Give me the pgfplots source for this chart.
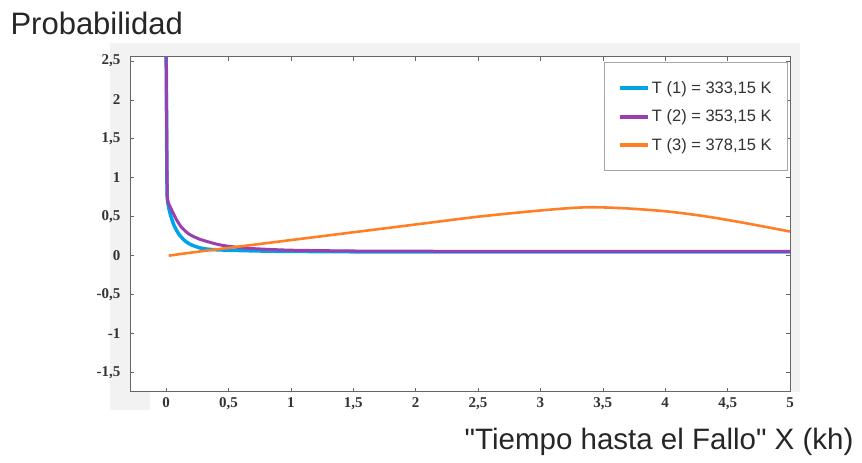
\documentclass[border=0pt]{standalone}
\usepackage{pgfplots}
\pgfplotsset{compat=1.18}
\usepackage{fontspec}
\setmainfont{Liberation Sans}
\newfontfamily\labelfont{Liberation Sans}
\newfontfamily\tickfont{Liberation Serif}
\definecolor{cblue}{HTML}{00A2E8}
\definecolor{cpurple}{HTML}{9A3FB0}
\definecolor{corange}{HTML}{FF7F27}
\begin{document}
\begin{tikzpicture}[x=1pt,y=1pt]
\path[use as bounding box] (0,0) rectangle (862,463);
\fill[gray!10] (110,71) rectangle (800,420);
\fill[gray!10] (110,53) rectangle (150,71);
\begin{axis}[
  at={(130pt,71pt)}, anchor=south west,
  scale only axis, width=660pt, height=335pt,
  xmin=-0.29, xmax=5, ymin=-1.75, ymax=2.55,
  axis background/.style={fill=white},
  axis line style={gray!80!black, line width=1pt},
  tick style={gray!80!black, line width=0.6pt},
  major tick length=4pt,
  tick align=inside,
  xtick={0,0.5,1,1.5,2,2.5,3,3.5,4,4.5,5},
  xticklabels={0,{0,5},1,{1,5},2,{2,5},3,{3,5},4,{4,5},5},
  ytick={-1.5,-1,-0.5,0,0.5,1,1.5,2,2.5},
  yticklabels={{-1,5},-1,{-0,5},0,{0,5},1,{1,5},2,{2,5}},
  tick label style={font=\tickfont\bfseries\fontsize{15}{15}\selectfont, text=black!80},
  yticklabel style={xshift=-6pt},
  xticklabel style={yshift=-2pt},
  legend style={at={(rel axis cs:0.997,0.985)}, anchor=north east,
    draw=gray!70, line width=0.8pt, font=\labelfont\fontsize{16.5}{16.5}\selectfont,
    row sep=11pt, inner xsep=14pt, inner ysep=17pt, text=black!80},
  legend cell align=left,
  legend image code/.code={\draw[#1, line width=4pt] (0pt,0pt) -- (28pt,0pt);},
]
\addplot[cblue, line width=3.5pt, smooth, tension=0.4] coordinates {
(0,2.55) (0.002,2.0) (0.004,1.5) (0.006,1.0) (0.01,0.72) (0.03,0.55) (0.06,0.4) (0.1,0.28)
(0.15,0.19) (0.2,0.14) (0.27,0.10) (0.35,0.08) (0.5,0.07) (0.75,0.06) (1,0.055)
(1.5,0.05) (2,0.05) (3,0.05) (4,0.05) (5,0.05)};
\addlegendentry{T (1) = 333,15 K}
\addplot[cpurple, line width=3pt, smooth, tension=0.4] coordinates {
(0,2.55) (0.003,2.0) (0.005,1.5) (0.007,1.0) (0.01,0.72) (0.04,0.6) (0.08,0.47) (0.12,0.37)
(0.18,0.28) (0.27,0.21) (0.4,0.15) (0.5,0.12) (0.7,0.09) (1,0.07) (1.5,0.06)
(2,0.057) (3,0.055) (4,0.055) (5,0.055)};
\addlegendentry{T (2) = 353,15 K}
\addplot[corange, line width=2.6pt, smooth] coordinates {
(0.02,0.0) (0.25,0.05) (0.5,0.1) (1,0.2) (1.5,0.3) (2,0.4) (2.5,0.5) (3,0.58)
(3.35,0.62) (3.65,0.61) (4,0.57) (4.3,0.51) (4.6,0.43) (5,0.31)};
\addlegendentry{T (3) = 378,15 K}
\end{axis}
\node[anchor=base west, font=\labelfont\fontsize{31}{31}\selectfont, text=black!85] at (7,428) {Probabilidad};
\node[anchor=base east, font=\labelfont\fontsize{29.5}{29.5}\selectfont, text=black!85] at (857,13) {"Tiempo hasta el Fallo" X (kh)};
\end{tikzpicture}
\end{document}
